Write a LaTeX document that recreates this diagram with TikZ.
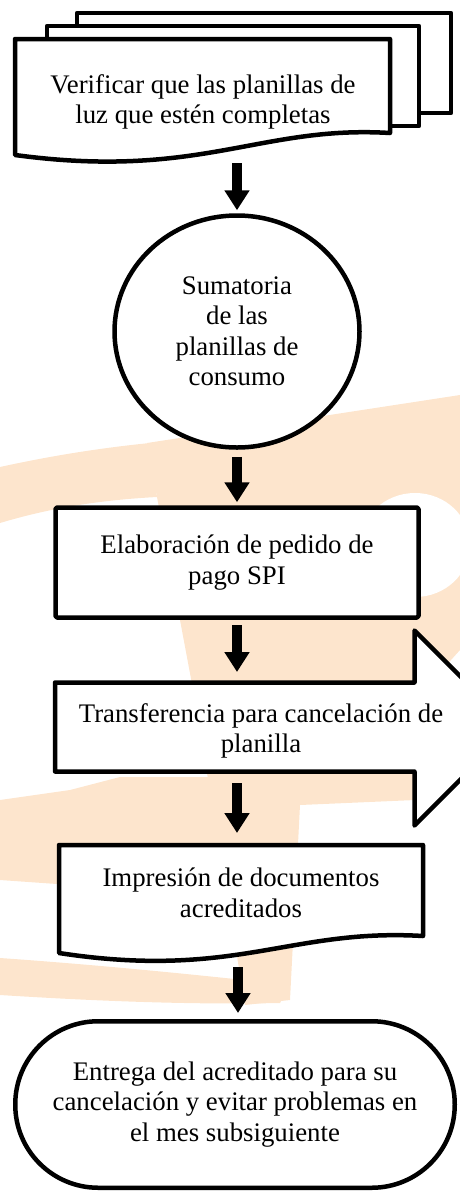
\documentclass[tikz,border=0pt]{standalone}
\usepackage{fontspec}
\setmainfont{Liberation Serif}
\usetikzlibrary{arrows.meta,shapes.geometric}
\definecolor{peach}{HTML}{FDE5CD}
\begin{document}
\begin{tikzpicture}[x=1pt,y=-1pt,
  outline/.style={draw=black,line width=4.5pt,fill=white,line join=round},
  flow/.style={line width=10pt,-{Triangle[width=24pt,length=20pt]}},
  lbl/.style={align=center,inner sep=0pt,font=\fontsize{26.8}{30.5}\selectfont}]
\useasboundingbox (0,0) rectangle (460,1192);
% --- watermark (faint logo) ---
\fill[peach] (0,467) .. controls (50,456) and (100,448) .. (150,443) -- (157,497) .. controls (100,500) and (50,508) .. (0,523) -- cycle;
\fill[peach] (147,443) -- (460,395) -- (460,650) -- (415,700) -- (415,800) -- (300,805) -- (290,1000) -- (245,1005) -- (195,700) -- (180,620) -- (157,497) -- cycle;
\fill[white] (415,545) ellipse [x radius=55, y radius=52];
\fill[peach] (0,800) -- (70,790) -- (120,777) -- (250,777) -- (250,850) -- (57,850) -- (57,884) -- (0,880) -- cycle;
\fill[peach] (0,958) .. controls (100,965) and (200,975) .. (290,985) -- (280,1003) .. controls (180,1005) and (80,1000) .. (0,995) -- cycle;
% --- stacked documents ---
\draw[outline] (77,13) rectangle (451,113);
\draw[outline] (47,26) rectangle (419,126);
\draw[outline] (15,39) -- (390,39) -- (390,133) .. controls (260,125) and (200,180) .. (15,155) -- cycle;
\node[lbl] (n1) at (203,102) {Verificar que las planillas de\\luz que estén completas};
\coordinate (n1S) at (237,163);
% --- circle ---
\node[ellipse,outline,minimum width=245pt,minimum height=232pt,lbl] (n2) at (237,331.5) {Sumatoria\\de las\\planillas de\\consumo};
% --- process box ---
\node[rectangle,outline,rounded corners=1.5pt,minimum width=363pt,minimum height=110pt,lbl] (n3) at (237,562.5) {Elaboración de pedido de\\pago SPI};
% --- arrow shape ---
\draw[outline] (55,682.5) -- (414.5,682.5) -- (414.5,630.5) -- (512,728) -- (414.5,825.5) -- (414.5,771.5) -- (55,771.5) -- cycle;
\node[lbl] (n4) at (261,731) {Transferencia para cancelación de\\planilla};
\coordinate (n4N) at (237,682.5);
\coordinate (n4S) at (237,771.5);
% --- document ---
\draw[outline] (59,845) -- (423,845) -- (423,936) .. controls (290,928) and (235,980) .. (59,953) -- cycle;
\node[lbl] (n5) at (241,893) {Impresión de documentos\\acreditados};
\coordinate (n5N) at (237,845);
\coordinate (n5S) at (238,950);
% --- terminal ---
\node[rectangle,outline,rounded corners=83pt,minimum width=439.5pt,minimum height=166.5pt,lbl] (n6) at (235,1104.5) {Entrega del acreditado para su\\cancelación y evitar problemas en\\el mes subsiguiente};
% --- connectors ---
\draw[flow] (n1S) -- ([yshift=3pt]n2.north);
\draw[flow,shorten <=7pt] (n2.south) -- ([yshift=3pt]n3.north);
\draw[flow,shorten <=5.5pt,shorten >=10.5pt] (n3.south) -- (n4N);
\draw[flow,shorten <=11.5pt,shorten >=12pt] (n4S) -- (n5N);
\draw[flow,shorten <=17pt,shorten >=6pt] (n5S) -- (n5S |- n6.north);
\end{tikzpicture}
\end{document}
